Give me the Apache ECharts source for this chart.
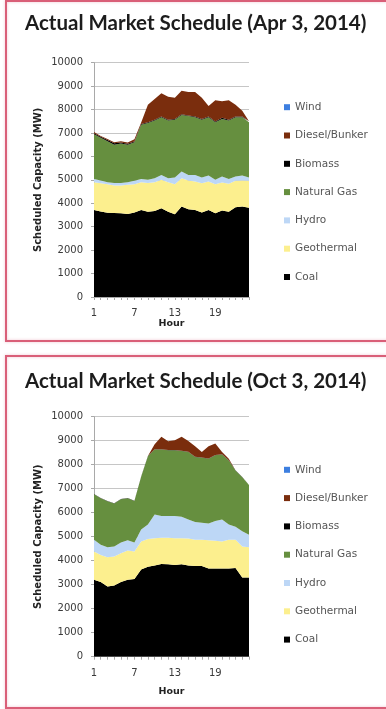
<!DOCTYPE html>
<html>
<head>
<meta charset="utf-8">
<script src="https://cdn.jsdelivr.net/npm/echarts@6/dist/echarts.min.js"></script>
<style>
  html, body { margin: 0; padding: 0; background: #ffffff; }
  #chart { width: 386px; height: 709px; }
</style>
</head>
<body>
<div id="chart"></div>
<script>
// Hour of day (x axis categories)
const hours = ['1','2','3','4','5','6','7','8','9','10','11','12',
               '13','14','15','16','17','18','19','20','21','22','23','24'];

// Scheduled capacity by source, MW — Apr 3, 2014
const aprCoal    = [3710,3650,3600,3580,3570,3540,3610,3710,3640,3670,3790,3640,3530,3860,3740,3710,3610,3710,3570,3690,3640,3830,3860,3810];
const aprGeo     = [1190,1210,1210,1180,1190,1250,1200,1190,1230,1230,1210,1260,1280,1210,1230,1220,1250,1220,1240,1200,1190,1130,1110,1150];
const aprHydro   = [140,110,90,110,110,110,150,140,130,170,210,170,290,290,240,280,240,260,190,250,210,180,220,140];
const aprGas     = [1910,1830,1750,1630,1680,1600,1640,2310,2430,2460,2460,2460,2470,2410,2510,2460,2470,2480,2460,2460,2490,2530,2480,2360];
const aprBiomass = [40,40,50,60,40,40,40,30,30,30,30,30,30,30,30,30,30,30,30,50,30,30,30,30];
const aprDiesel  = [50,30,40,50,60,50,90,70,740,890,1000,990,900,1000,1000,1050,900,450,910,700,840,500,250,10];
const aprWind    = [0,0,0,0,0,0,0,0,0,0,0,0,0,0,0,0,0,0,0,0,0,0,0,0];

// Scheduled capacity by source, MW — Oct 3, 2014
const octCoal    = [3210,3110,2930,2970,3110,3210,3240,3630,3750,3800,3860,3850,3820,3850,3800,3780,3780,3680,3680,3680,3680,3700,3300,3300];
const octGeo     = [1170,1130,1210,1200,1200,1210,1140,1170,1150,1140,1100,1110,1120,1090,1120,1090,1090,1170,1150,1120,1190,1170,1290,1260];
const octHydro   = [490,420,420,420,450,430,380,500,610,990,900,900,920,890,800,740,710,700,820,920,640,540,640,520];
const octGas     = [1900,1940,1920,1790,1800,1750,1730,2200,2840,2700,2770,2740,2740,2740,2810,2710,2710,2700,2740,2710,2670,2350,2250,2070];
const octBiomass = [10,10,10,10,10,10,10,10,10,10,10,10,10,10,10,10,10,10,10,10,10,10,10,10];
const octDiesel  = [0,0,0,0,0,0,0,0,0,210,520,370,410,580,450,440,230,510,480,90,60,0,0,0];
const octWind    = [0,0,0,0,0,0,0,0,0,0,0,0,0,0,0,0,0,0,0,0,0,0,0,0];

// Y axis scale
const yMin = 0, yMax = 10000, yStep = 1000;

// Stack order, bottom to top, with fill colours
const sources = [
  { name: 'Coal',          color: '#000000' },
  { name: 'Geothermal',    color: '#fcef8e' },
  { name: 'Hydro',         color: '#bdd7f6' },
  { name: 'Natural Gas',   color: '#668f3f' },
  { name: 'Biomass',       color: '#000000' },
  { name: 'Diesel/Bunker', color: '#7a2d0d' },
  { name: 'Wind',          color: '#3d7fe0' }
];
const legendOrder = ['Wind', 'Diesel/Bunker', 'Biomass', 'Natural Gas', 'Hydro', 'Geothermal', 'Coal'];

const panels = [
  { title: 'Actual Market Schedule (Apr 3, 2014)', titleY: 23,
    grid: { left: 94, top: 62.7, width: 155, height: 234.3 },
    legendTop: 100.7, labelMargin: 11, nameGap: 21,
    values: [aprCoal, aprGeo, aprHydro, aprGas, aprBiomass, aprDiesel, aprWind],
    frame: { x: 6, y: 1, width: 400, height: 340 } },
  { title: 'Actual Market Schedule (Oct 3, 2014)', titleY: 381.5,
    grid: { left: 94, top: 416.7, width: 155, height: 240 },
    legendTop: 463.3, labelMargin: 12, nameGap: 30,
    values: [octCoal, octGeo, octHydro, octGas, octBiomass, octDiesel, octWind],
    frame: { x: 6, y: 356, width: 400, height: 352 } }
];

const axisGrey = '#a9a9a9';
const labelFont = 'DejaVu Sans';

const option = {
  animation: false,
  backgroundColor: '#ffffff',
  grid: panels.map(p => Object.assign({ containLabel: false }, p.grid)),
  xAxis: panels.map((p, i) => ({
    type: 'category', gridIndex: i, data: hours, boundaryGap: false,
    axisLine: { lineStyle: { color: axisGrey, width: 1 } },
    axisTick: { show: true, interval: 0, length: 3, lineStyle: { color: axisGrey } },
    axisLabel: { interval: 5, margin: p.labelMargin, fontFamily: labelFont, fontSize: 10, color: '#3a3a3a' },
    splitLine: { show: false },
    name: 'Hour', nameLocation: 'middle', nameGap: p.nameGap,
    nameTextStyle: { fontFamily: labelFont, fontWeight: 'bold', fontSize: 9.5, color: '#222222' }
  })),
  yAxis: panels.map((p, i) => ({
    type: 'value', gridIndex: i, min: yMin, max: yMax, interval: yStep,
    axisLine: { show: true, lineStyle: { color: axisGrey, width: 1 } },
    axisTick: { show: true, length: 3, lineStyle: { color: axisGrey } },
    axisLabel: { margin: 11, fontFamily: labelFont, fontSize: 10, color: '#3a3a3a',
                 formatter: v => String(v) },
    splitLine: { show: true, lineStyle: { color: '#c6c6c6', width: 1 } },
    name: 'Scheduled Capacity (MW)', nameLocation: 'middle', nameGap: 51,
    nameTextStyle: { fontFamily: labelFont, fontWeight: 'bold', fontSize: 10, color: '#222222' }
  })),
  legend: panels.map(p => ({
    orient: 'vertical', left: 284, top: p.legendTop, padding: 0,
    icon: 'rect', itemWidth: 6, itemHeight: 6, itemGap: 15.3,
    data: legendOrder, selectedMode: false,
    textStyle: { fontFamily: labelFont, fontSize: 10.5, color: '#555555', lineHeight: 13 }
  })),
  series: [],
  graphic: []
};

panels.forEach((p, i) => {
  sources.forEach((s, k) => {
    option.series.push({
      name: s.name, type: 'line', xAxisIndex: i, yAxisIndex: i,
      stack: 'panel' + i, data: p.values[k],
      symbol: 'none', smooth: false,
      lineStyle: { width: 0, color: s.color },
      itemStyle: { color: s.color },
      areaStyle: { color: s.color, opacity: 1 }
    });
  });
  option.graphic.push({
    type: 'rect', silent: true,
    shape: p.frame,
    style: { fill: 'none', stroke: '#d95f78', lineWidth: 2, shadowBlur: 3, shadowColor: 'rgba(210,80,110,0.35)' }
  });
  option.graphic.push({
    type: 'text', silent: true, x: 25, y: p.titleY,
    style: { text: p.title, font: 'bold 20.5px Lato', fill: '#1c1c1c', align: 'left', verticalAlign: 'middle' }
  });
});

const chart = echarts.init(document.getElementById('chart'), null, { renderer: 'canvas' });
chart.setOption(option);
</script>
</body>
</html>
